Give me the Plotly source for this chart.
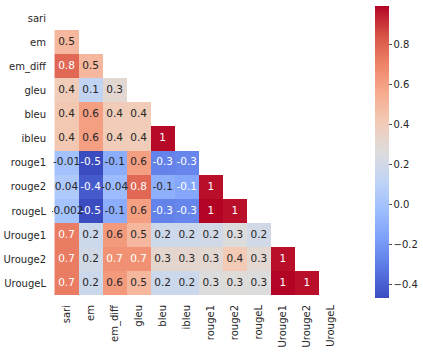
import plotly.graph_objects as go

metrics = ['sari', 'em', 'em_diff', 'gleu', 'bleu', 'ibleu',
           'rouge1', 'rouge2', 'rougeL', 'Urouge1', 'Urouge2', 'UrougeL']

# lower triangle of the correlation matrix, one list per row (diagonal and above are masked)
sari = []
em = [0.5]
em_diff = [0.78, 0.5]
gleu = [0.4, 0.12, 0.3]
bleu = [0.42, 0.6, 0.4, 0.4]
ibleu = [0.42, 0.6, 0.4, 0.4, 0.98]
rouge1 = [-0.01, -0.47, -0.11, 0.6, -0.28, -0.27]
rouge2 = [0.04, -0.42, -0.04, 0.78, -0.1, -0.14, 0.97]
rougeL = [-0.002, -0.47, -0.11, 0.6, -0.28, -0.27, 0.99, 0.97]
Urouge1 = [0.72, 0.17, 0.62, 0.5, 0.18, 0.18, 0.2, 0.26, 0.2]
Urouge2 = [0.72, 0.2, 0.65, 0.65, 0.31, 0.31, 0.3, 0.41, 0.3, 0.97]
UrougeL = [0.72, 0.17, 0.62, 0.5, 0.17, 0.17, 0.26, 0.27, 0.26, 0.99, 0.97]

rows = [sari, em, em_diff, gleu, bleu, ibleu, rouge1, rouge2, rougeL, Urouge1, Urouge2, UrougeL]

# matplotlib coolwarm sampled at 11 points
coolwarm = ['#3b4cc0', '#5977e3', '#7b9ff9', '#9ebeff', '#c0d4f5', '#dddcdc',
            '#f2cbb7', '#f7ac8e', '#ee8468', '#d65244', '#b40426']
colorscale = [[i / 10, c] for i, c in enumerate(coolwarm)]

n = len(metrics)
z = [row + [None] * (n - len(row)) for row in rows]
vals = [v for row in rows for v in row]
vmin, vmax = min(vals), max(vals)


def rgb_at(t):
    t = min(max(t, 0), 1)
    i = min(int(t * 10), 9)
    f = t * 10 - i
    a = [int(coolwarm[i][k:k + 2], 16) for k in (1, 3, 5)]
    b = [int(coolwarm[i + 1][k:k + 2], 16) for k in (1, 3, 5)]
    return [(a[j] + (b[j] - a[j]) * f) / 255 for j in range(3)]


def lum(rgb):
    lin = [c / 12.92 if c <= 0.03928 else ((c + 0.055) / 1.055) ** 2.4 for c in rgb]
    return 0.2126 * lin[0] + 0.7152 * lin[1] + 0.0722 * lin[2]


# annotation text like seaborn fmt='.1g', colour chosen by cell luminance
tx, ty, tt, tc = [], [], [], []
for r, row in enumerate(rows):
    for c, v in enumerate(row):
        tx.append(metrics[c])
        ty.append(metrics[r])
        tt.append(format(v, '.1g'))
        col = rgb_at((v - vmin) / (vmax - vmin))
        tc.append('#262626' if lum(col) > 0.408 else 'white')

fig = go.Figure()
fig.add_trace(go.Heatmap(
    z=z, x=metrics, y=metrics, colorscale=colorscale,
    zmin=vmin, zmax=vmax, hoverongaps=False,
    colorbar=dict(thickness=14, len=1, lenmode='fraction', y=0.5, yanchor='middle',
                  ypad=0, x=1.11, xanchor='left', xpad=0, outlinewidth=0,
                  tick0=0, dtick=0.2, tickformat='.1f', ticks='outside', ticklen=3,
                  tickcolor='#555', tickfont=dict(family='DejaVu Sans', size=10, color='#262626')),
))
fig.add_trace(go.Scatter(
    x=tx, y=ty, text=tt, mode='text', hoverinfo='skip', showlegend=False,
    textfont=dict(family='DejaVu Sans', size=10.5, color=tc),
))
fig.update_xaxes(type='category', categoryorder='array', categoryarray=metrics,
                 tickangle=-90, showgrid=False, zeroline=False, showline=False,
                 ticklabelstandoff=4,
                 tickfont=dict(family='DejaVu Sans', size=10, color='#262626'))
fig.update_yaxes(type='category', categoryorder='array', categoryarray=metrics,
                 autorange='reversed', showgrid=False, zeroline=False, showline=False,
                 ticklabelstandoff=5,
                 tickfont=dict(family='DejaVu Sans', size=10, color='#262626'))
fig.update_layout(width=423, height=353,
                  margin=dict(l=52, r=80, t=6, b=55, autoexpand=False),
                  plot_bgcolor='white', paper_bgcolor='white')
# drop the browser's default body margin so the figure sits at the page corner
fig.write_html("out.html", config={'displayModeBar': False},
               post_script="document.body.style.margin='0';")
